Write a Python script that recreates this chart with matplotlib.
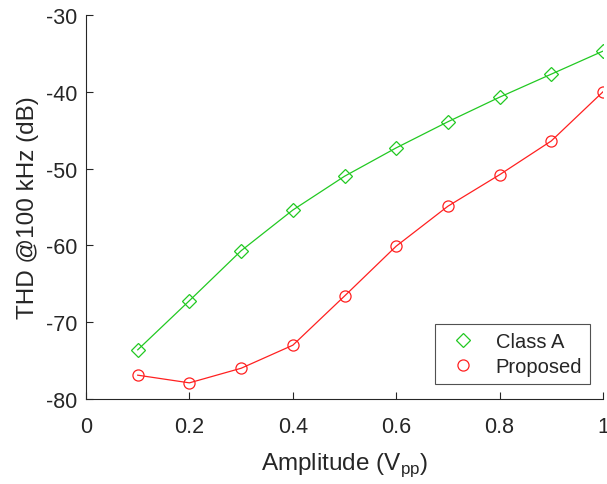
import matplotlib.pyplot as plt

amplitude = [0.1, 0.2, 0.3, 0.4, 0.5, 0.6, 0.7, 0.8, 0.9, 1.0]
thd_class_a = [-73.6, -67.2, -60.7, -55.4, -51.0, -47.3, -43.9, -40.7, -37.7, -34.7]
thd_proposed = [-76.9, -77.9, -76.0, -73.0, -66.6, -60.1, -54.9, -50.8, -46.4, -40.0]

plt.rcParams['font.family'] = ['Liberation Sans', 'DejaVu Sans']
plt.rcParams['axes.unicode_minus'] = False
grey = '#262626'

fig = plt.figure(figsize=(6.07, 4.85), dpi=100)
ax = fig.add_axes([0.1417, 0.1753, 0.8517, 0.7917])

ax.plot(amplitude, thd_class_a, color='#22c922', linewidth=0.9, marker='D',
        markersize=7, markerfacecolor='none', markeredgewidth=0.9, label='Class A')
ax.plot(amplitude, thd_proposed, color='#ff2020', linewidth=0.9, marker='o',
        markersize=8, markerfacecolor='none', markeredgewidth=0.9, label='Proposed')

ax.set_xlim(0, 1)
ax.set_ylim(-80, -30)
ax.set_xticks([0, 0.2, 0.4, 0.6, 0.8, 1])
ax.set_xticklabels(['0', '0.2', '0.4', '0.6', '0.8', '1'])
ax.set_yticks([-80, -70, -60, -50, -40, -30])

for side in ['top', 'right']:
    ax.spines[side].set_visible(False)
for side in ['left', 'bottom']:
    ax.spines[side].set_color(grey)
    ax.spines[side].set_linewidth(0.8)

ax.tick_params(direction='in', length=5, width=0.8, colors=grey, labelsize=15.5)
ax.tick_params(axis='x', pad=12)
ax.tick_params(axis='y', pad=6)

ax.set_xlabel('Amplitude (V$_{\\mathregular{pp}}$)', fontsize=17.5, color=grey, labelpad=10)
ax.set_ylabel('THD @100 kHz (dB)', fontsize=17.5, color=grey, labelpad=5)

leg = ax.legend(loc='lower right', bbox_to_anchor=(0.975, 0.039), borderaxespad=0,
                fontsize=14.5, frameon=True, fancybox=False, edgecolor=grey,
                handlelength=2.0, borderpad=0.4, labelspacing=0.3, handletextpad=0.6)
leg.get_frame().set_linewidth(0.8)
for text in leg.get_texts():
    text.set_color(grey)
for h in leg.legend_handles:
    h.set_linestyle('none')

fig.savefig('out.png', dpi=100)
